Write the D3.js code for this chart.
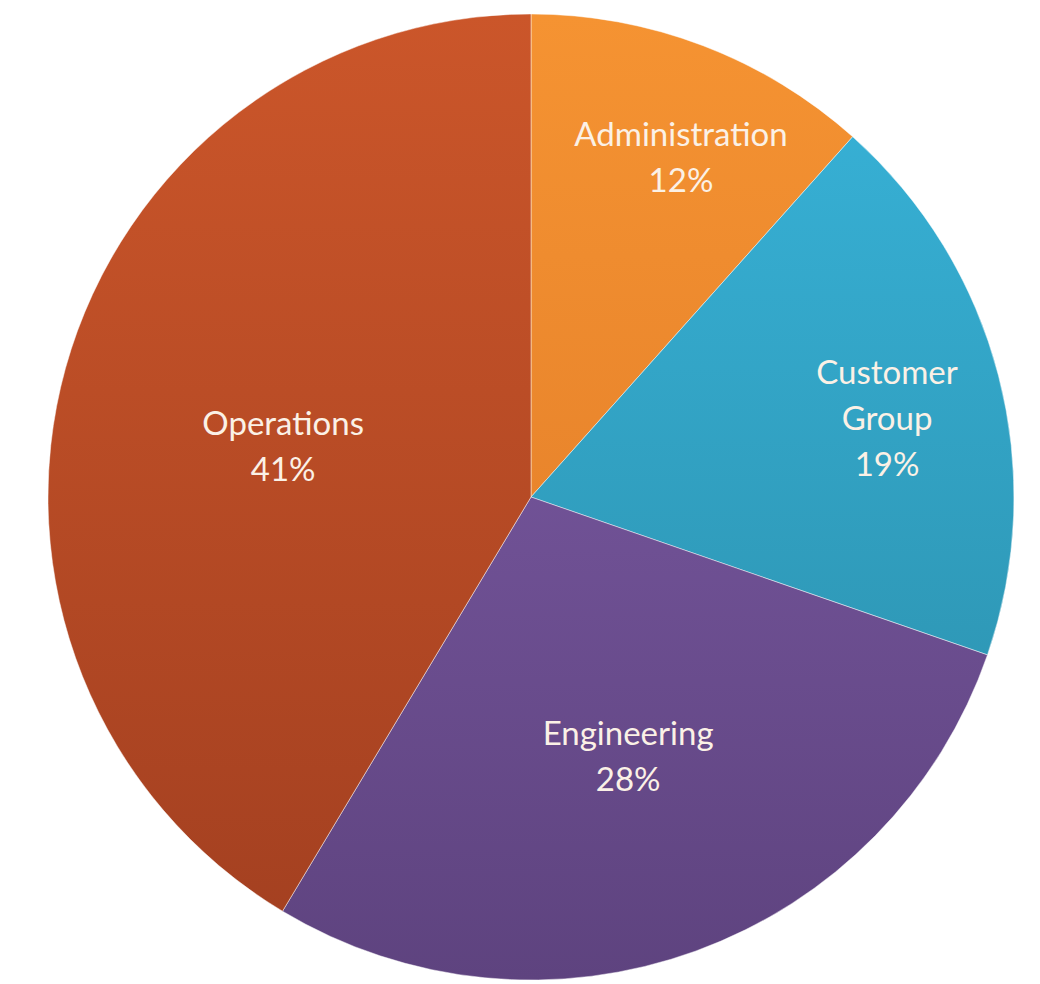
<!DOCTYPE html>
<html>
<head>
<meta charset="utf-8">
<script src="https://cdn.jsdelivr.net/npm/d3@7"></script>
<style>
  html, body { margin: 0; padding: 0; background: #ffffff; }
  svg { display: block; }
</style>
</head>
<body>
<svg id="chart" width="1040" height="984"></svg>
<script>
const categories = ["Administration", "Customer Group", "Engineering", "Operations"]
const shares = [11.6, 18.7, 28.3, 41.4]
const labelLines = [["Administration"], ["Customer", "Group"], ["Engineering"], ["Operations"]]

// colours, light at the top of the pie and darker at the bottom
const topColors = ["#F59332", "#38B4DA", "#8260AC", "#CB562A"]
const bottomColors = ["#DD7726", "#2A8BA6", "#5E437F", "#A23F20"]

const width = 1040, height = 984
const cx = 531, cy = 497, radius = 483

// label placement: fraction of radius and angle shift from slice middle (deg)
const labelRadius = [0.77, 0.755, 0.572, 0.524]
const labelShift = [2.9, 2.1, -0.6, -3.8]

const svg = d3.select("#chart")
const defs = svg.append("defs")

categories.forEach((c, i) => {
  const grad = defs.append("linearGradient")
    .attr("id", "grad" + i)
    .attr("gradientUnits", "userSpaceOnUse")
    .attr("x1", 0).attr("y1", -radius)
    .attr("x2", 0).attr("y2", radius)
  grad.append("stop").attr("offset", "0%").attr("stop-color", topColors[i])
  grad.append("stop").attr("offset", "100%").attr("stop-color", bottomColors[i])
})

const pie = d3.pie().sort(null).value(d => d)
const arcs = pie(shares)
const arc = d3.arc().innerRadius(0).outerRadius(radius)

const g = svg.append("g").attr("transform", `translate(${cx},${cy})`)

g.selectAll("path.slice")
  .data(arcs)
  .enter().append("path")
  .attr("class", "slice")
  .attr("d", arc)
  .attr("fill", (d, i) => `url(#grad${i})`)
  .attr("stroke", "rgba(255,255,255,0.45)")
  .attr("stroke-width", 1)

const labels = g.selectAll("text.lbl")
  .data(arcs)
  .enter().append("text")
  .attr("class", "lbl")
  .attr("text-anchor", "middle")
  .attr("font-family", "Lato, 'Open Sans', sans-serif")
  .attr("font-size", 33)
  .attr("fill", "#FBF1E6")
  .attr("transform", (d, i) => {
    const a = (d.startAngle + d.endAngle) / 2 + labelShift[i] * Math.PI / 180
    const r = radius * labelRadius[i]
    const x = Math.sin(a) * r
    const y = -Math.cos(a) * r
    return `translate(${x},${y})`
  })

labels.each(function(d, i) {
  const lines = labelLines[i].concat([Math.round(shares[i]) + "%"])
  const lh = 46
  const t = d3.select(this)
  lines.forEach((ln, j) => {
    t.append("tspan")
      .attr("x", 0)
      .attr("y", (j - (lines.length - 1) / 2) * lh + 12)
      .text(ln)
  })
})
</script>
</body>
</html>
